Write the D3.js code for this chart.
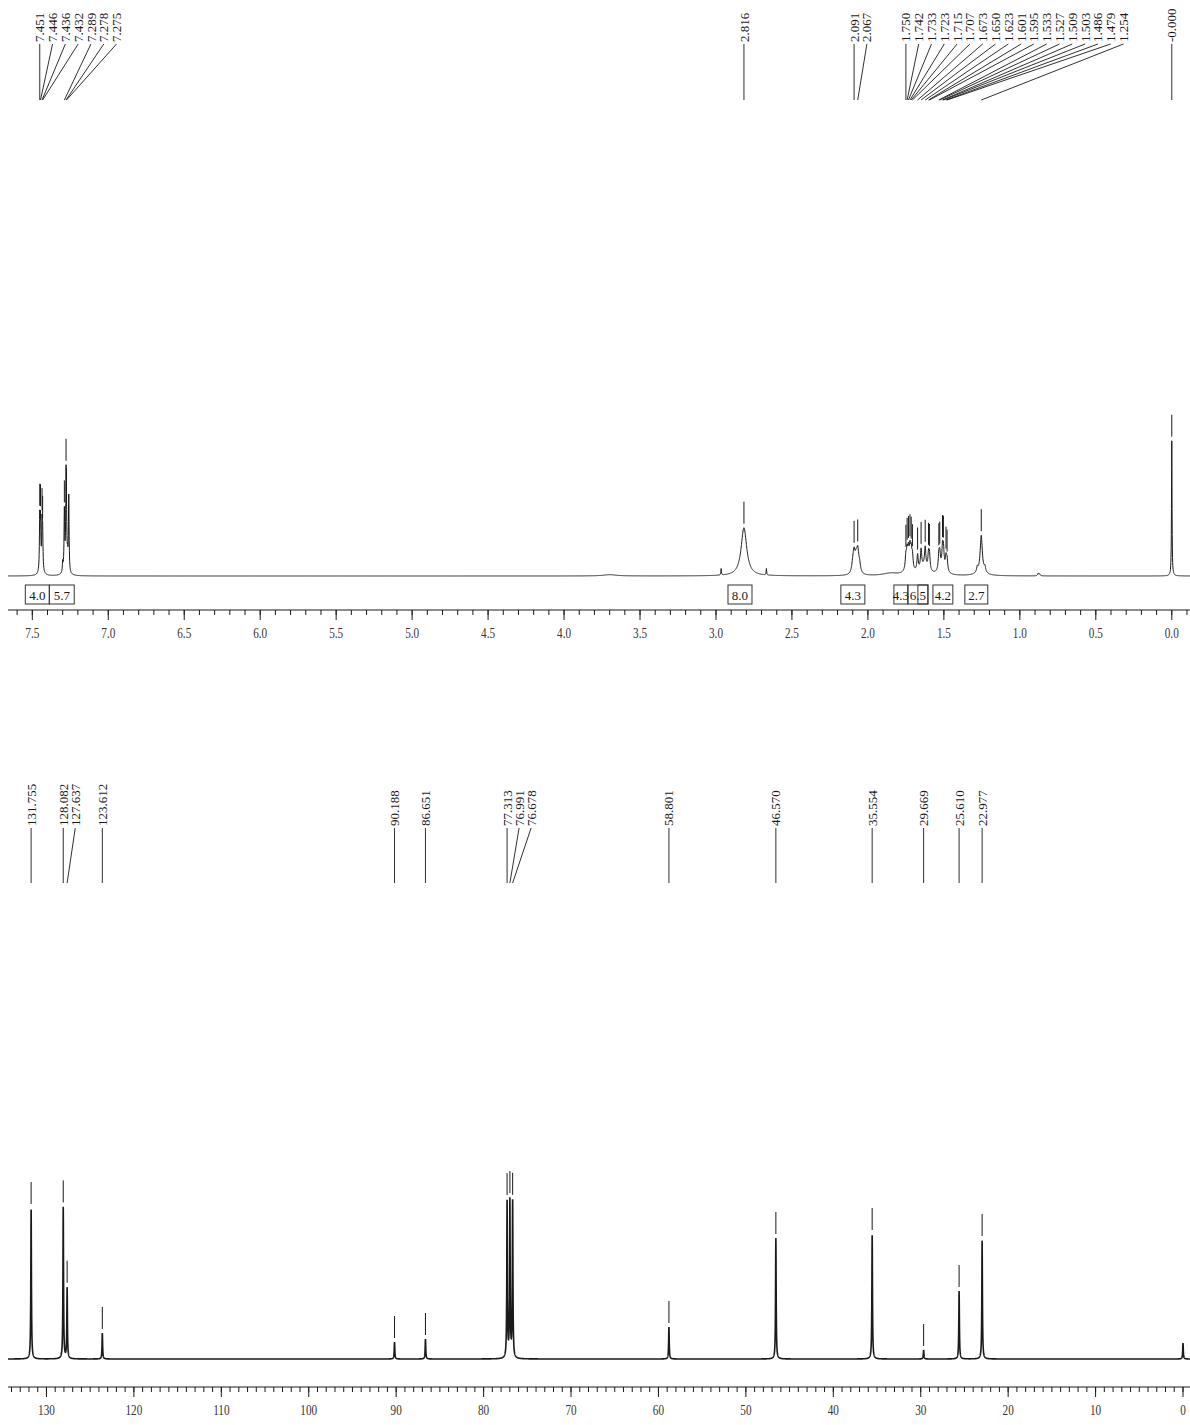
<!DOCTYPE html>
<html><head><meta charset="utf-8">
<script src="https://cdn.jsdelivr.net/npm/d3@7"></script>
<style>body{margin:0;background:#fff}svg{display:block}</style>
</head><body>
<svg id="chart" width="1190" height="1425"></svg>
<script>
// ---------------- 1H NMR data ----------------
const hLabelShifts = [7.451,7.446,7.436,7.432,7.289,7.278,7.275,2.816,2.091,2.067,1.750,1.742,1.733,1.723,1.715,1.707,1.673,1.650,1.623,1.601,1.595,1.533,1.527,1.509,1.503,1.486,1.479,1.254,0.000];
const hLabelTexts  = ["7.451","7.446","7.436","7.432","7.289","7.278","7.275","2.816","2.091","2.067","1.750","1.742","1.733","1.723","1.715","1.707","1.673","1.650","1.623","1.601","1.595","1.533","1.527","1.509","1.503","1.486","1.479","1.254","-0.000"];
// all resonance lines (shift, intensity, half width)
const hLineShift  = [7.451,7.446,7.436,7.432,7.440,7.289,7.278,7.275,7.268,7.260,7.300,7.280,2.816,2.966,2.668,2.100,2.091,2.078,2.067,2.055,1.850,1.750,1.742,1.733,1.723,1.715,1.707,1.730,1.673,1.650,1.623,1.601,1.595,1.630,1.533,1.527,1.509,1.503,1.486,1.479,1.510,1.280,1.254,1.230,1.254,0.880,0.870,3.700,0.000];
const hLineHeight = [32,29,26,22,4,36,52,22,8,47,6,5,30,4,4,5,12,8,13,5,1.5,8,10,10,11,10,8,4,10,12,12,9,9,5,9,9,11,11,8,7,4,3,22,3,3,1.5,1.2,0.8,84];
const hLineWidth  = [0.0025,0.0025,0.0025,0.0025,0.012,0.0025,0.0025,0.0025,0.0025,0.0025,0.0025,0.012,0.022,0.002,0.002,0.008,0.008,0.008,0.008,0.008,0.06,0.005,0.005,0.005,0.005,0.005,0.005,0.025,0.005,0.005,0.005,0.005,0.005,0.03,0.005,0.005,0.005,0.005,0.005,0.005,0.025,0.005,0.008,0.005,0.03,0.004,0.004,0.05,0.002];
const hIntegralFrom  = [7.546,7.388,2.921,2.178,1.829,1.737,1.671,1.572,1.362];
const hIntegralTo    = [7.388,7.224,2.763,2.020,1.737,1.605,1.605,1.441,1.211];
const hIntegralLabel = ["4.0","5.7","8.0","4.3","4.3","6.5","","4.2","2.7"];
const hTickLabels = ["7.5","7.0","6.5","6.0","5.5","5.0","4.5","4.0","3.5","3.0","2.5","2.0","1.5","1.0","0.5","0.0"];

// ---------------- 13C NMR data ----------------
const cLabelShifts = [131.755,128.082,127.637,123.612,90.188,86.651,77.313,76.991,76.678,58.801,46.570,35.554,29.669,25.610,22.977];
const cLabelTexts  = ["131.755","128.082","127.637","123.612","90.188","86.651","77.313","76.991","76.678","58.801","46.570","35.554","29.669","25.610","22.977"];
const cLineShift  = [131.755,128.082,127.637,123.612,90.188,86.651,77.313,76.991,76.678,58.801,46.570,35.554,29.669,25.610,22.977,0.000];
const cLineHeight = [151,152,71,26,17,20,157,157,157,32,121,125,9,68,119,16];
const cTickLabels = ["130","120","110","100","90","80","70","60","50","40","30","20","10","0"];

// ---------------- drawing ----------------
const svg = d3.select("#chart");
const FONT = "'Liberation Serif','Times New Roman',serif";
const INK = "#1a1a1a";

function lorentz(x, shifts, heights, widths) {
  let y = 0;
  for (let i = 0; i < shifts.length; i++) {
    const d = (x - shifts[i]) / widths[i];
    y += heights[i] / (1 + d * d);
  }
  return y;
}

function spreadLabels(xs, gap) {
  const out = [];
  xs.forEach((x, i) => { out.push(i === 0 ? x : Math.max(x, out[i - 1] + gap)); });
  return out;
}

function drawPanel(cfg) {
  const x = d3.scaleLinear().domain(cfg.domain).range([cfg.x0, cfg.x1]);
  const y = d3.scaleLinear().domain([0, cfg.yMax]).range([cfg.base, cfg.base - cfg.yPix]);
  const g = svg.append("g");

  // spectrum
  const lo = cfg.domain[1], hi = cfg.domain[0];
  const n = Math.round((hi - lo) / cfg.step);
  const pts = [];
  for (let i = 0; i <= n; i++) {
    const s = lo + i * cfg.step;
    pts.push([s, lorentz(s, cfg.shifts, cfg.heights, cfg.widths)]);
  }
  g.append("path").datum(pts)
    .attr("d", d3.line().x(d => x(d[0])).y(d => y(d[1])))
    .attr("fill", "none").attr("stroke", INK).attr("stroke-width", cfg.lw);

  // peak markers
  cfg.labelShifts.forEach(s => {
    const v = lorentz(s, cfg.shifts, cfg.heights, cfg.widths);
    const yt = y(v);
    g.append("line").attr("x1", x(s)).attr("x2", x(s))
      .attr("y1", yt - 4).attr("y2", yt - 26)
      .attr("stroke", INK).attr("stroke-width", 1);
  });

  // labels with leader lines
  const px = cfg.labelShifts.map(s => x(s));
  const lx = spreadLabels(px, cfg.gap);
  cfg.labelShifts.forEach((s, i) => {
    g.append("line").attr("x1", lx[i]).attr("y1", cfg.labelBottom + 2)
      .attr("x2", px[i]).attr("y2", cfg.leaderEnd)
      .attr("stroke", INK).attr("stroke-width", 0.9);
    g.append("text")
      .attr("transform", `translate(${lx[i]},${cfg.labelBottom}) rotate(-90)`)
      .attr("dy", "0.35em").attr("text-anchor", "start")
      .attr("font-family", FONT).attr("font-size", 13).attr("fill", INK)
      .text(cfg.labelTexts[i]);
  });

  // axis
  const ax = g.append("g").attr("transform", `translate(0,${cfg.axisY})`);
  ax.append("line").attr("x1", cfg.x0).attr("x2", cfg.x1).attr("stroke", INK).attr("stroke-width", 1);
  const minorVals = d3.range(cfg.minorStart, cfg.minorEnd - 1e-9, -cfg.minorStep);
  ax.selectAll("line.minor").data(minorVals).join("line").attr("class", "minor")
    .attr("x1", d => x(d)).attr("x2", d => x(d)).attr("y1", 0).attr("y2", 5)
    .attr("stroke", INK).attr("stroke-width", 1);
  const majorVals = cfg.tickLabels.map(Number);
  ax.selectAll("line.major").data(majorVals).join("line").attr("class", "major")
    .attr("x1", d => x(d)).attr("x2", d => x(d)).attr("y1", 0).attr("y2", 10)
    .attr("stroke", INK).attr("stroke-width", 1);
  ax.selectAll("text").data(cfg.tickLabels).join("text")
    .attr("transform", d => `translate(${x(+d)},23) scale(0.8,1)`)
    .attr("dy", "0.35em").attr("text-anchor", "middle")
    .attr("font-family", FONT).attr("font-size", 14).attr("fill", "#333")
    .text(d => d);
  return { x, y, g };
}

// 1H panel
const H = drawPanel({
  domain: [7.66, -0.12], x0: 8, x1: 1190, base: 576, yMax: 100, yPix: 161,
  step: 0.001, lw: 1,
  shifts: hLineShift, heights: hLineHeight, widths: hLineWidth,
  labelShifts: hLabelShifts, labelTexts: hLabelTexts, gap: 12.8,
  labelBottom: 42, leaderEnd: 100,
  axisY: 610, minorStart: 7.6, minorEnd: -0.1, minorStep: 0.1, tickLabels: hTickLabels
});

// integrals
hIntegralFrom.forEach((f, i) => {
  const x0 = H.x(f), x1 = H.x(hIntegralTo[i]);
  H.g.append("rect").attr("x", x0).attr("y", 585).attr("width", x1 - x0).attr("height", 19)
    .attr("fill", "none").attr("stroke", "#333").attr("stroke-width", 1);
  H.g.append("text").attr("x", (x0 + x1) / 2).attr("y", 595).attr("dy", "0.35em")
    .attr("text-anchor", "middle").attr("font-family", FONT).attr("font-size", 13).attr("fill", INK)
    .text(hIntegralLabel[i]);
});

// 13C panel
const cWidths = cLineShift.map(() => 0.04);
drawPanel({
  domain: [134.4, -0.8], x0: 8, x1: 1190, base: 1359, yMax: 180, yPix: 180,
  step: 0.01, lw: 1.6,
  shifts: cLineShift, heights: cLineHeight, widths: cWidths,
  labelShifts: cLabelShifts, labelTexts: cLabelTexts, gap: 12,
  labelBottom: 826, leaderEnd: 883,
  axisY: 1387, minorStart: 134, minorEnd: 0, minorStep: 1, tickLabels: cTickLabels
});
</script>
</body></html>
